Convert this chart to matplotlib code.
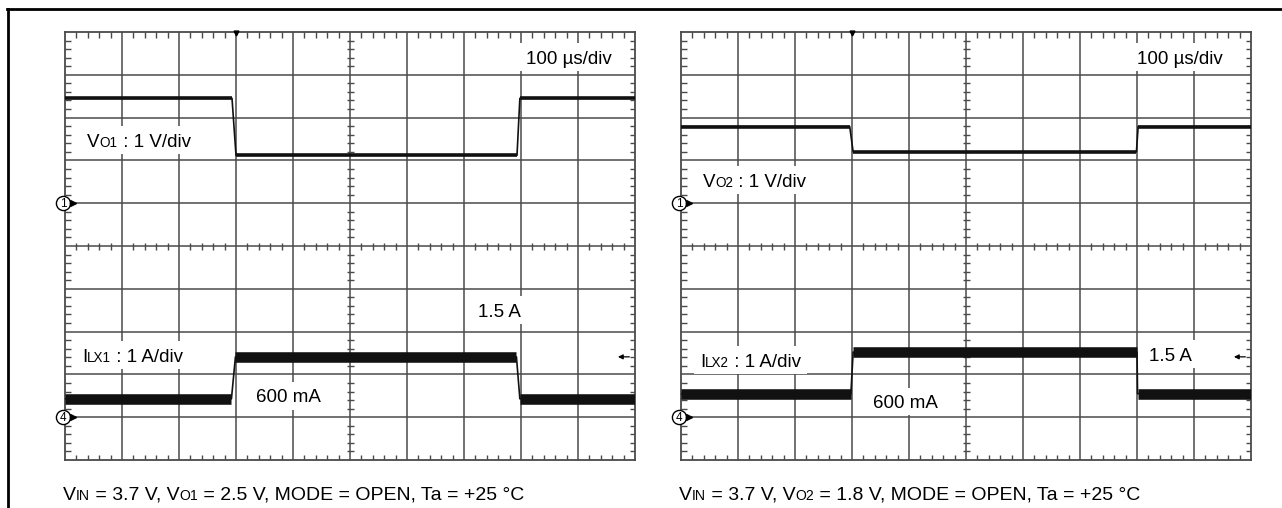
import matplotlib
matplotlib.use("Agg")
import matplotlib.pyplot as plt
import numpy as np
from matplotlib.transforms import offset_copy, IdentityTransform
from matplotlib.patches import Rectangle
from matplotlib.lines import Line2D

# ---------------- data ----------------
# time base 100 us/div, 10 div; vertical 1 V/div (ch1) and 1 A/div (ch4)
# left screen: VO1 and ILX1
t_vo1 = [0, 293, 300, 793, 798, 1000]
vo1 = [2.45, 2.45, 1.12, 1.12, 2.45, 2.45]
t_ilx1 = [0, 292, 299, 792, 798, 1000]
ilx1 = [0.43, 0.43, 1.41, 1.41, 0.43, 0.43]
# right screen: VO2 and ILX2
t_vo2 = [0, 296, 302, 799, 802, 1000]
vo2 = [1.79, 1.79, 1.20, 1.20, 1.79, 1.79]
t_ilx2 = [0, 298, 302, 800, 801, 1000]
ilx2 = [0.54, 0.54, 1.52, 1.52, 0.55, 0.55]

ch1_ground = 6.0   # divisions from bottom
ch4_ground = 1.0

time_label = "100 µs/div"
left_labels = {
    "v": [("V", 1), ("O1", 0.72), (" : 1 V/div", 1)],
    "i": [("I", 1), ("LX1", 0.72), (" : 1 A/div", 1)],
    "hi": "1.5 A", "lo": "600 mA",
    "cap": [("V", 1), ("IN", 0.72), (" = 3.7 V, V", 1), ("O1", 0.72),
            (" = 2.5 V, MODE = OPEN, Ta = +25 °C", 1)],
}
right_labels = {
    "v": [("V", 1), ("O2", 0.72), (" : 1 V/div", 1)],
    "i": [("I", 1), ("LX2", 0.72), (" : 1 A/div", 1)],
    "hi": "1.5 A", "lo": "600 mA",
    "cap": [("V", 1), ("IN", 0.72), (" = 3.7 V, V", 1), ("O2", 0.72),
            (" = 1.8 V, MODE = OPEN, Ta = +25 °C", 1)],
}

# ---------------- figure ----------------
W, H = 1282, 508
DPI = 100
FONT = "Liberation Sans"
FS = 13.5
CAP_FS = 14.0
GRID = "#4a4a4a"

fig = plt.figure(figsize=(W / DPI, H / DPI), dpi=DPI)
renderer = fig.canvas.get_renderer()

PX_DIV_X = 57.0
PX_DIV_Y = 42.8


def rich(ax, x, y, parts, size=FS, box=True, padx=6, pady=7):
    dx = 0.0
    bbs = []
    for s, rel in parts:
        tr = offset_copy(ax.transData, fig=fig, x=dx, y=0, units="points")
        t = ax.text(x, y, s, transform=tr, fontsize=size * rel, va="baseline",
                    ha="left", zorder=6, family=FONT, color="black", clip_on=False)
        bb = t.get_window_extent(renderer=renderer)
        dx += bb.width * 72.0 / DPI
        bbs.append(bb)
    if box:
        x0 = min(b.x0 for b in bbs) - padx
        x1 = max(b.x1 for b in bbs) + padx
        by = ax.transData.transform((x, y))[1]
        cap = size / 72.0 * DPI * 0.72
        y0 = by - pady
        y1 = by + cap + pady
        r = Rectangle((x0, y0), x1 - x0, y1 - y0, transform=IdentityTransform(),
                      facecolor="white", edgecolor="none", zorder=4)
        ax.add_patch(r)
        r.set_transform(IdentityTransform())
        r.set_clip_on(False)


def base(yc):
    # convert a text-centre position (div) to a baseline position
    return yc - 6.7 / PX_DIV_Y


def graticule(ax):
    ax.set_xlim(0, 1000)
    ax.set_ylim(0, 10)
    ax.set_xticks([])
    ax.set_yticks([])
    for sp in ax.spines.values():
        sp.set_color(GRID)
        sp.set_linewidth(1.3)
    kw = dict(color=GRID, lw=1.1, zorder=1)
    ax.vlines(np.arange(100, 1000, 100), 0, 10, **kw)
    ax.hlines(np.arange(1, 10, 1), 0, 1000, **kw)
    xm = [x for x in np.arange(20, 1000, 20) if x % 100]
    ym = [y for y in np.arange(0.2, 10, 0.2) if abs(y - round(y)) > 1e-6]
    lx = 5.5 / PX_DIV_X * 100
    ly = 5.5 / PX_DIV_Y
    cx = 3.5 / PX_DIV_X * 100
    cy = 3.5 / PX_DIV_Y
    tk = dict(color=GRID, lw=1.0, zorder=1)
    ax.vlines(xm, 10 - ly, 10, **tk)
    ax.vlines(xm, 0, ly, **tk)
    ax.vlines(xm, 5 - cy, 5 + cy, **tk)
    ax.hlines(ym, 0, lx, **tk)
    ax.hlines(ym, 1000 - lx, 1000, **tk)
    ax.hlines(ym, 500 - cx, 500 + cx, **tk)


def trace(ax, t, v, ground, thick):
    y = [ground + val for val in v]
    ax.plot(t, y, color="#111111", lw=1.2, zorder=7, solid_capstyle="butt")
    for i in range(len(t) - 1):
        if v[i] == v[i + 1]:
            ax.plot([t[i], t[i + 1]], [y[i], y[i + 1]], color="#111111",
                    lw=thick, zorder=7, solid_capstyle="butt")


def markers(ax):
    off = -3.5
    for g, s in ((ch1_ground, "1"), (ch4_ground, "4")):
        ax.plot([off], [g], marker="o", ms=10.2, mfc="white", mec="black",
                mew=1.0, clip_on=False, zorder=8)
        ax.text(off + 0.3, g - 0.01, s, fontsize=8.5, ha="center", va="center",
                family=FONT, zorder=9, clip_on=False)
        ax.plot([off + 12, 17], [g, g], color="black", lw=1.0, clip_on=False, zorder=8)
        ax.plot([14], [g], marker=">", ms=4.5, color="black", clip_on=False, zorder=8)
    ax.plot([300], [9.97], marker="v", ms=3.5, color="black", clip_on=False, zorder=8)
    ax.annotate("", xy=(970, 2.41), xytext=(990, 2.41),
                arrowprops=dict(arrowstyle="-|>", color="black", lw=0.9,
                                mutation_scale=7, shrinkA=0, shrinkB=0), zorder=8)


panels = [
    (65, t_vo1, vo1, t_ilx1, ilx1, left_labels,
     dict(time=(809, 9.42), v=(38.6, 7.48), i=(29.8, 2.45), hi=(724.6, 3.5), lo=(335, 1.5))),
    (681, t_vo2, vo2, t_ilx2, ilx2, right_labels,
     dict(time=(800, 9.42), v=(38.6, 6.54), i=(33.3, 2.34), hi=(821, 2.48), lo=(336.8, 1.36))),
]

for left_px, tv, vv, ti, iv, labels, pos in panels:
    ax = fig.add_axes([left_px / W, 48 / H, 570 / W, 428 / H])
    graticule(ax)
    trace(ax, tv, vv, ch1_ground, 2.6)
    trace(ax, ti, iv, ch4_ground, 7.6)
    markers(ax)
    rich(ax, pos["time"][0], base(pos["time"][1]), [(time_label, 1)])
    rich(ax, pos["v"][0], base(pos["v"][1]), labels["v"])
    rich(ax, pos["i"][0], base(pos["i"][1]), labels["i"])
    rich(ax, pos["hi"][0], base(pos["hi"][1]), [(labels["hi"], 1)])
    rich(ax, pos["lo"][0], base(pos["lo"][1]), [(labels["lo"], 1)])
    rich(ax, -3.5, -0.93, labels["cap"], size=CAP_FS, box=False)

fig.add_artist(Line2D([7 / W, 1], [1 - 8.5 / H, 1 - 8.5 / H], transform=fig.transFigure,
                      color="black", lw=2.0))
fig.add_artist(Line2D([7.5 / W, 7.5 / W], [0, 1 - 8.5 / H], transform=fig.transFigure,
                      color="black", lw=2.0))

fig.savefig("out.png", dpi=DPI, facecolor="white")
